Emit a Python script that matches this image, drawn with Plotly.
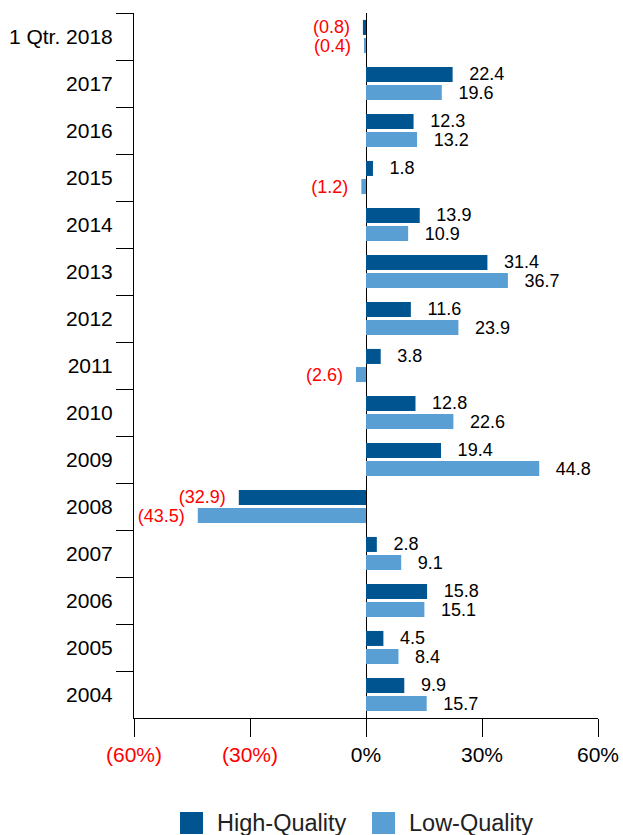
import plotly.graph_objects as go

# returns by year, high- vs low-quality stocks (%)
periods = ["1 Qtr. 2018", "2017", "2016", "2015", "2014", "2013", "2012", "2011",
           "2010", "2009", "2008", "2007", "2006", "2005", "2004"]
high_quality = [-0.8, 22.4, 12.3, 1.8, 13.9, 31.4, 11.6, 3.8, 12.8, 19.4, -32.9, 2.8, 15.8, 4.5, 9.9]
low_quality = [-0.4, 19.6, 13.2, -1.2, 10.9, 36.7, 23.9, -2.6, 22.6, 44.8, -43.5, 9.1, 15.1, 8.4, 15.7]

tick_vals = [-60, -30, 0, 30, 60]
tick_text = ['<span style="color:#ff0000">(60%)</span>', '<span style="color:#ff0000">(30%)</span>',
             "0%", "30%", "60%"]

DARK = "#00548f"
LIGHT = "#5a9fd3"
NB = "\u00a0\u00a0"


def labels(vals):
    return [f"({abs(v):.1f}){NB}" if v < 0 else f"{NB}\u2009{v:.1f}" for v in vals]


def label_colors(vals):
    return ["#ff0000" if v < 0 else "#000000" for v in vals]


fig = go.Figure()
for name, vals, col in [("High-Quality", high_quality, DARK), ("Low-Quality", low_quality, LIGHT)]:
    fig.add_trace(go.Bar(
        y=periods, x=vals, name=name, orientation="h",
        marker=dict(color=col, line=dict(width=0)),
        text=labels(vals), textposition="outside", cliponaxis=False,
        constraintext="none",
        outsidetextfont=dict(size=18, color=label_colors(vals), family="Liberation Sans, Arial"),
        showlegend=False,
    ))

# legend drawn by hand (bigger swatches than plotly's legend allows)
def px_x(p):
    return (p - 134) / 464


def px_y(p):
    return (718 - p) / 705


for x0, x1, col, txt, tx in [(180, 203, DARK, "High-Quality", 215), (372, 395, LIGHT, "Low-Quality", 407)]:
    fig.add_shape(type="rect", xref="paper", yref="paper",
                  x0=px_x(x0), x1=px_x(x1), y0=px_y(834), y1=px_y(812),
                  fillcolor=col, line=dict(width=0))
    fig.add_annotation(xref="paper", yref="paper", x=px_x(tx), y=px_y(823),
                       text=txt, showarrow=False, xanchor="left", yanchor="middle",
                       font=dict(size=23.5, color="#222222"))

fig.update_layout(
    width=623, height=835,
    margin=dict(l=134, r=25, t=13, b=117, autoexpand=False),
    barmode="group", bargap=0.23, bargroupgap=0.17,
    plot_bgcolor="white", paper_bgcolor="white",
    font=dict(family="Liberation Sans, Arial", color="#000000"),
)
fig.update_xaxes(
    range=[-60, 60], tickvals=tick_vals, ticktext=tick_text, automargin=False,
    showgrid=False, zeroline=True, zerolinecolor="#000000", zerolinewidth=1,
    showline=True, linecolor="#000000", linewidth=1,
    ticks="outside", ticklen=18, tickcolor="#000000", tickfont=dict(size=21),
)
fig.update_yaxes(
    autorange="reversed", tickson="boundaries", automargin=False,
    showgrid=False, showline=True, linecolor="#000000", linewidth=1,
    ticks="outside", ticklen=17, tickcolor="#000000", tickfont=dict(size=21),
    ticklabelstandoff=16,
)

fig.write_html("out.html", config={"displayModeBar": False},
               post_script="document.body.style.margin='0';document.body.style.overflow='hidden';")
